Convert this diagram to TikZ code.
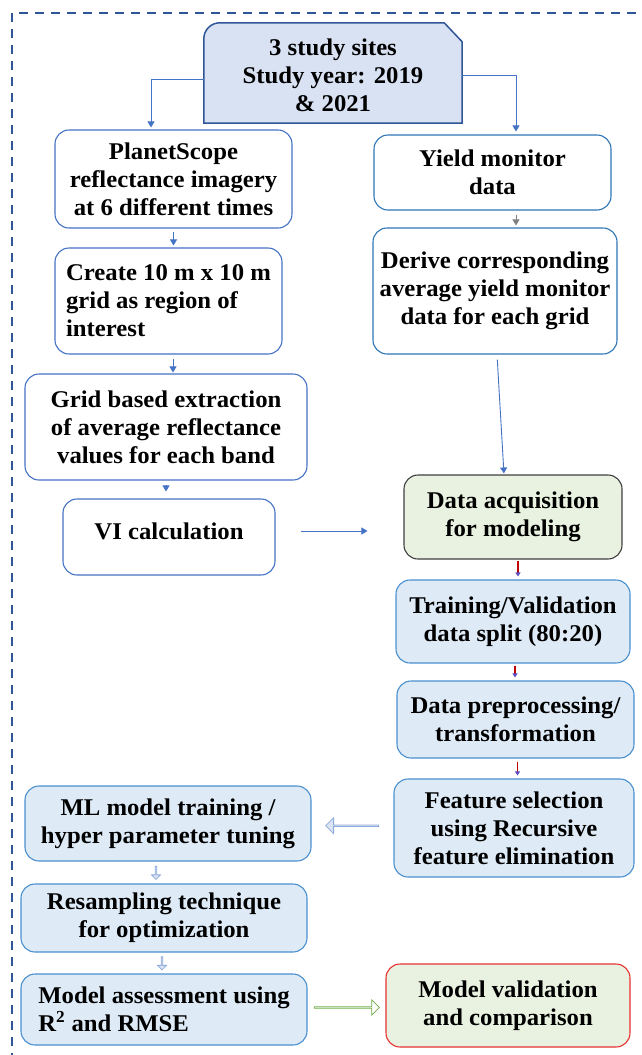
\documentclass[tikz,border=0pt]{standalone}
\usepackage{fontspec}
\setmainfont{Liberation Serif}[FakeStretch=1.03]
\usetikzlibrary{arrows.meta, positioning, shapes.arrows, calc}

\definecolor{lineblue}{HTML}{4472C4}
\definecolor{brightblue}{HTML}{2E75B6}
\definecolor{skyfill}{HTML}{DEEBF7}
\definecolor{skyline}{HTML}{4A90D0}
\definecolor{sitefill}{HTML}{D9E2F3}
\definecolor{siteline}{HTML}{2F5597}
\definecolor{mintfill}{HTML}{E9F2E0}
\definecolor{darkred}{HTML}{C00000}
\definecolor{tipviolet}{HTML}{5B4FC0}
\definecolor{paleline}{HTML}{8FAADC}
\definecolor{palefill}{HTML}{DAE3F3}
\definecolor{leafline}{HTML}{70AD47}
\definecolor{alertline}{HTML}{E63232}
\definecolor{slate}{HTML}{3F3F3F}

\tikzset{
  every node/.style={font=\bfseries\fontsize{24}{28}\selectfont, align=center,
    text=black}, % bold serif text everywhere
  box/.style={rounded corners=14pt, line width=1.1pt, inner sep=3pt}, % the
  % common look of the process boxes
}

\begin{document}
\begin{tikzpicture}[x=1pt, y=-1pt,
    wbox/.style={box, draw=lineblue, fill=white},
    ybox/.style={box, draw=brightblue, fill=white},
    bbox/.style={box, draw=skyline, fill=skyfill},
    link/.style={draw=lineblue, line width=0.9pt, -{Triangle[width=7pt,length=6pt]}},
    redlink/.style={draw=darkred, line width=1.8pt,
      -{Triangle[width=5pt,length=4pt,color=tipviolet]}},
    hollow/.style={single arrow, draw=paleline, fill=palefill, line width=0.8pt,
      inner sep=0pt}]

    \useasboundingbox (0,0) rectangle (641,1055);

    % dashed frame, open to the right and below
    \draw[siteline, line width=1.8pt, dash pattern=on 9pt off 7pt] (700,13) -| (12,1100);

    % study sites
    \node[minimum width=258pt, minimum height=100pt, inner sep=0pt] (sites) at (333,73) {};
    \draw[siteline, fill=sitefill, line width=1.5pt]
    (sites.south west) -- ([yshift=-16pt]sites.north west)
    arc[start angle=180, end angle=90, radius=16pt]
    -- ([xshift=-18pt]sites.north east) -- ([yshift=-19pt]sites.north east)
    -- (sites.south east) -- cycle;
    \node at ([yshift=-2pt]sites.center) {3 study sites\\Study year: 2019\\\& 2021};

    % left branch
    \node[wbox, minimum width=237pt, minimum height=98pt] (planet) at (173.5,179)
    {PlanetScope\\reflectance imagery\\at 6 different times};
    \node[wbox, minimum width=227pt, minimum height=106pt, align=left] (create) at (168.5,301)
    {Create 10 m x 10 m\\grid as region of\\interest};
    \node[wbox, minimum width=282pt, minimum height=106pt] (grid) at (166,427)
    {Grid based extraction\\of average reflectance\\values for each band};
    \node[wbox, minimum width=212pt, minimum height=76pt] (vi) at (169,537)
    {VI calculation\\[-16pt]};

    % right branch
    \node[ybox, minimum width=237pt, minimum height=75pt] (yield) at (492.5,172.5)
    {Yield monitor\\data};
    \node[ybox, minimum width=244pt, minimum height=126pt] (derive) at (495,291)
    {Derive corresponding\\average yield monitor\\data for each grid};

    % modeling chain
    \node[box, draw=slate, fill=mintfill, minimum width=218pt, minimum height=84pt] (acq)
    at (513,517) {Data acquisition\\for modeling};
    \node[bbox, minimum width=234pt, minimum height=83pt] (train) at (513,621.5)
    {Training/Validation\\data split (80:20)};
    \node[bbox, minimum width=237pt, minimum height=77pt] (prep) at (515.5,719.5)
    {Data preprocessing/\\transformation};
    \node[bbox, minimum width=240pt, minimum height=98pt] (feat) at (514,828)
    {Feature selection\\using Recursive\\feature elimination};
    \node[bbox, minimum width=286pt, minimum height=75pt] (ml) at (168,823.5)
    {ML model training /\\hyper parameter tuning};
    \node[bbox, minimum width=286pt, minimum height=68pt] (resamp) at (164,918)
    {Resampling technique\\for optimization};
    \node[bbox, minimum width=286pt, minimum height=71pt, align=left] (assess) at (164,1009.5)
    {Model assessment using\\R\textsuperscript{2} and RMSE};
    \node[box, draw=alertline, fill=mintfill, minimum width=244pt, minimum height=83pt] (valid)
    at (508,1005.5) {Model validation\\and comparison};

    % connectors
    \draw[link, shorten >=2pt] ([yshift=-6pt]sites.west) -| ([xshift=-22.5pt]planet.north);
    \draw[link, shorten >=3pt] ([yshift=-2pt]sites.east) -| ([xshift=23.5pt]yield.north);
    \draw[link, shorten <=3pt, shorten >=2pt] (planet.south) -- (planet.south |- create.north);
    \draw[link, shorten <=4pt, shorten >=1pt] ([xshift=4.5pt]create.south) -- ([xshift=4.5pt]create.south |- grid.north);
    \draw[link, shorten <=4pt, shorten >=7pt] (grid.south) -- (grid.south |- vi.north);
    \draw[draw=gray, line width=0.9pt, -{Triangle[width=7pt,length=6pt]}, shorten <=4pt, shorten >=2pt]
    ([xshift=23.5pt]yield.south) -- ([xshift=23.5pt]yield.south |- derive.north);
    \draw[link, shorten <=5pt, shorten >=1pt] ([xshift=2pt]derive.south) -- ([xshift=-9pt]acq.north);
    \draw[link, shorten <=25pt, shorten >=36pt] ([yshift=6pt]vi.east) -- ([yshift=6pt]vi.east -| acq.west);
    \draw[redlink, shorten <=1pt, shorten >=3pt] ([xshift=5pt]acq.south) -- ([xshift=5pt]acq.south |- train.north);
    \draw[redlink, shorten <=2pt, shorten >=3pt] ([xshift=2pt]train.south) -- ([xshift=2pt]train.south |- prep.north);
    \draw[redlink, shorten <=3pt, shorten >=3pt] ([xshift=2pt]prep.south) -- ([xshift=2pt]prep.south |- feat.north);

    % block arrows
    \node[hollow, shape border rotate=180, minimum height=53pt, minimum width=16pt,
    single arrow head extend=4pt] (tomodel) at ($(feat.west)!0.5!(ml.east)$) {};
    \node[hollow, shape border rotate=270, minimum height=13pt, minimum width=9pt,
    single arrow head extend=2pt] (toresamp) at ($([xshift=-10pt]ml.south)!0.5!([xshift=-10pt]resamp.north)$) {};
    \node[hollow, shape border rotate=270, minimum height=13pt, minimum width=9pt,
    single arrow head extend=2pt] (toassess) at ($([xshift=-2pt]resamp.south)!0.5!([xshift=-2pt]assess.north)$) {};
    \node[hollow, draw=leafline, fill=white, minimum height=65pt, minimum width=15pt,
    single arrow head extend=4pt] (tovalid) at ($(assess.east)!0.5!(valid.west)$) {};
  \end{tikzpicture}
\end{document}
